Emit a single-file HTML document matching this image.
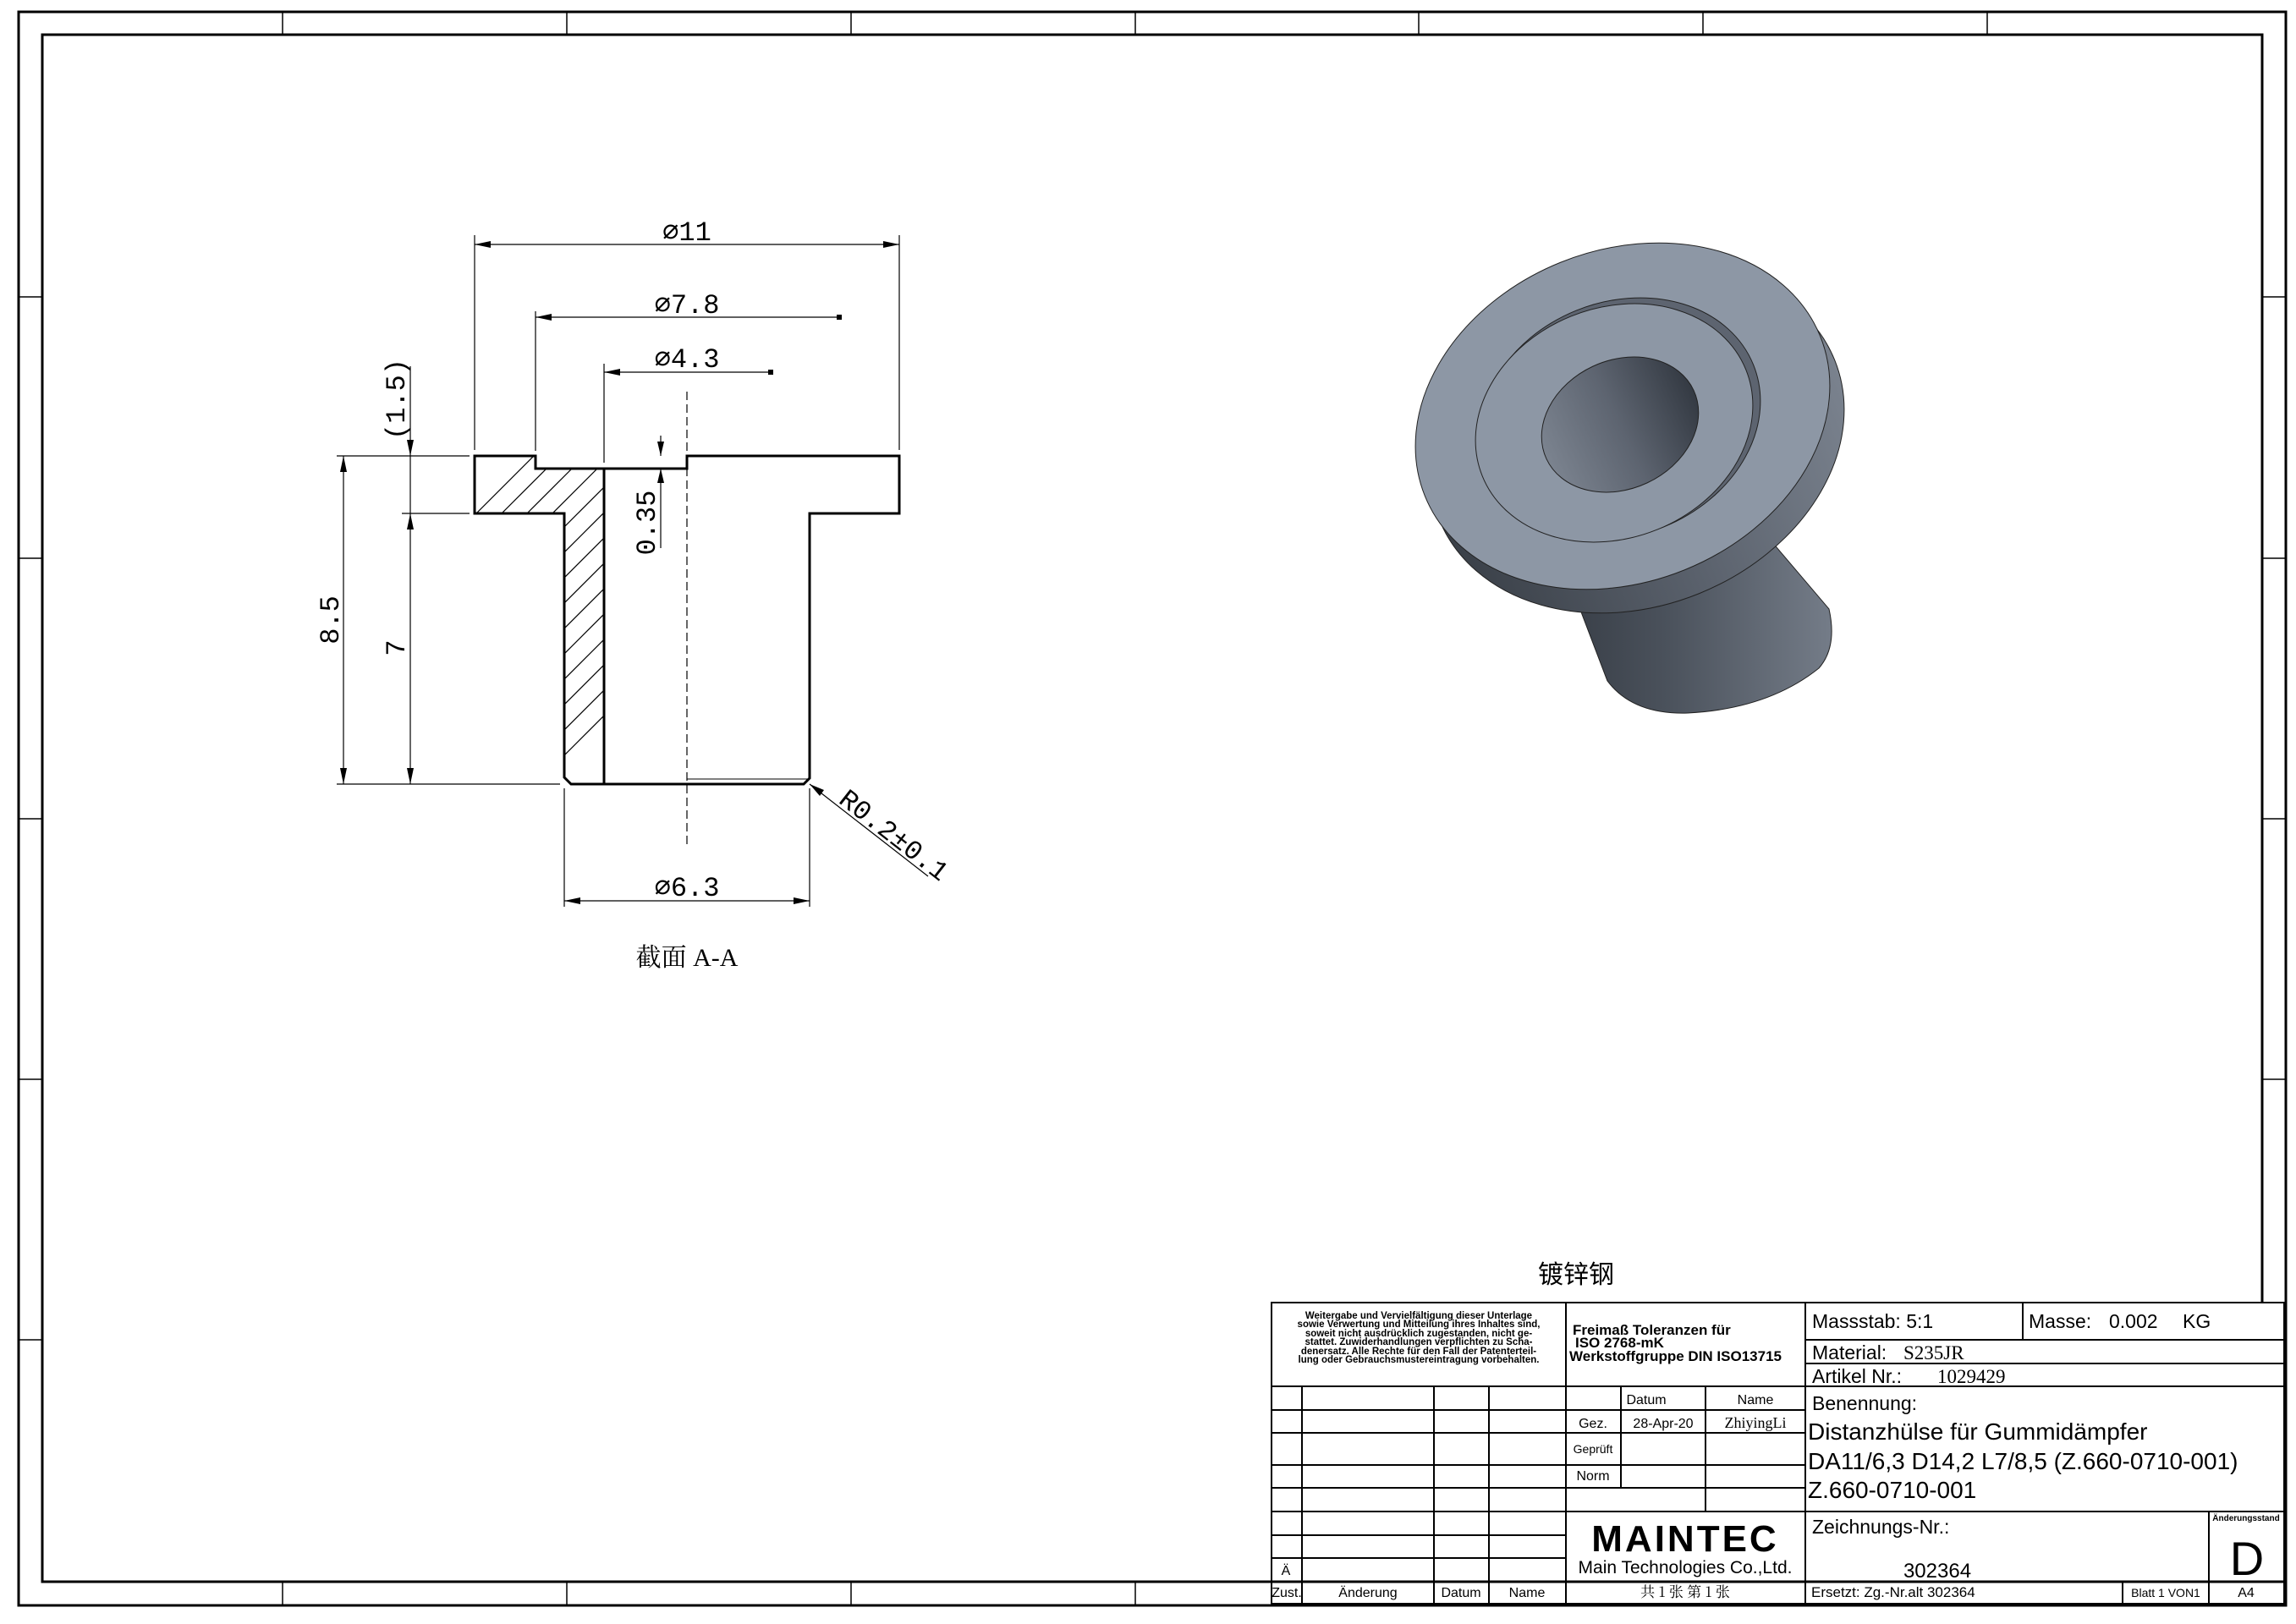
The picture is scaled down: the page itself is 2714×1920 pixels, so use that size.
<!DOCTYPE html>
<html><head><meta charset="utf-8"><style>
html,body{margin:0;padding:0;background:#fff;}
svg{display:block;}
.d{font-family:"Liberation Mono","DejaVu Sans Mono",monospace;font-size:32px;fill:#000;}
.t{font-family:"Liberation Sans","DejaVu Sans",sans-serif;fill:#000;}
.s{font-family:"Liberation Serif","Noto Serif CJK SC",serif;fill:#000;}
</style></head><body>
<svg width="2714" height="1920" viewBox="0 0 2714 1920" xmlns="http://www.w3.org/2000/svg">
<defs>
<clipPath id="sec"><polygon points="561,539 633,539 633,554 714,554 714,927 675,927 667,919 667,607 561,607"/></clipPath>
<linearGradient id="tube" x1="0" y1="0" x2="1" y2="0">
<stop offset="0" stop-color="#3a4049"/><stop offset="0.35" stop-color="#4a515b"/><stop offset="1" stop-color="#747c88"/></linearGradient>
<linearGradient id="rim" x1="0" y1="0" x2="1" y2="0">
<stop offset="0" stop-color="#3a4048"/><stop offset="0.5" stop-color="#59606b"/><stop offset="1" stop-color="#7a828e"/></linearGradient>
<linearGradient id="bore" x1="0" y1="0" x2="1" y2="0">
<stop offset="0" stop-color="#7b838f"/><stop offset="0.5" stop-color="#5d6470"/><stop offset="1" stop-color="#343a43"/></linearGradient>
</defs>
<rect x="22" y="14" width="2680" height="1884" fill="none" stroke="#000" stroke-width="3"/>
<rect x="50" y="41" width="2624" height="1829" fill="none" stroke="#000" stroke-width="3"/>
<g stroke="#000" stroke-width="1.5">
<line x1="334" y1="14" x2="334" y2="41"/><line x1="670" y1="14" x2="670" y2="41"/><line x1="1006" y1="14" x2="1006" y2="41"/><line x1="1342" y1="14" x2="1342" y2="41"/><line x1="1677" y1="14" x2="1677" y2="41"/><line x1="2013" y1="14" x2="2013" y2="41"/><line x1="2349" y1="14" x2="2349" y2="41"/>
<line x1="334" y1="1870" x2="334" y2="1898"/><line x1="670" y1="1870" x2="670" y2="1898"/><line x1="1006" y1="1870" x2="1006" y2="1898"/><line x1="1342" y1="1870" x2="1342" y2="1898"/>
<line x1="22" y1="351" x2="50" y2="351"/><line x1="22" y1="660" x2="50" y2="660"/><line x1="22" y1="968" x2="50" y2="968"/><line x1="22" y1="1276" x2="50" y2="1276"/><line x1="22" y1="1584" x2="50" y2="1584"/>
<line x1="2674" y1="351" x2="2702" y2="351"/><line x1="2674" y1="660" x2="2702" y2="660"/><line x1="2674" y1="968" x2="2702" y2="968"/><line x1="2674" y1="1276" x2="2702" y2="1276"/>
</g>

<g clip-path="url(#sec)" stroke="#000" stroke-width="1.2">
<line x1="540" y1="630" x2="660" y2="510"/><line x1="540" y1="660" x2="690" y2="510"/><line x1="560" y1="670" x2="720" y2="510"/><line x1="590" y1="670" x2="750" y2="510"/>
<line x1="600" y1="690" x2="760" y2="530"/><line x1="600" y1="720" x2="760" y2="560"/><line x1="600" y1="750" x2="760" y2="590"/><line x1="600" y1="780" x2="760" y2="620"/><line x1="600" y1="810" x2="760" y2="650"/><line x1="600" y1="840" x2="760" y2="680"/><line x1="600" y1="870" x2="760" y2="710"/><line x1="600" y1="900" x2="760" y2="740"/><line x1="600" y1="930" x2="760" y2="770"/><line x1="600" y1="960" x2="760" y2="800"/>
</g>
<g fill="none" stroke="#000" stroke-width="3">
<polygon points="561,539 633,539 633,554 714,554 714,927 675,927 667,919 667,607 561,607"/>
<polyline points="714,554 812,554 812,539 1063,539 1063,607 957,607 957,920 950,927 714,927"/>
</g>
<line x1="812" y1="921" x2="955" y2="921" stroke="#000" stroke-width="1"/>
<line x1="812" y1="463" x2="812" y2="1000" stroke="#000" stroke-width="1.2" stroke-dasharray="10,5"/>
<g stroke="#000" stroke-width="1.2" fill="none">
<line x1="561" y1="278" x2="561" y2="532"/><line x1="1063" y1="278" x2="1063" y2="532"/>
<line x1="633" y1="368" x2="633" y2="533"/><line x1="714" y1="430" x2="714" y2="547"/>
<line x1="398" y1="539" x2="555" y2="539"/><line x1="475" y1="607" x2="555" y2="607"/><line x1="398" y1="927" x2="662" y2="927"/>
<line x1="667" y1="932" x2="667" y2="1072"/><line x1="957" y1="932" x2="957" y2="1072"/>
<line x1="561" y1="289" x2="1063" y2="289"/>
<line x1="633" y1="375" x2="992" y2="375"/>
<line x1="714" y1="440" x2="911" y2="440"/>
<line x1="406" y1="539" x2="406" y2="927"/>
<line x1="485" y1="433" x2="485" y2="927"/>
<line x1="781" y1="515" x2="781" y2="539"/><line x1="781" y1="554" x2="781" y2="648"/>
<line x1="667" y1="1065" x2="957" y2="1065"/>
<line x1="957" y1="927" x2="1097" y2="1036"/>
</g>
<g fill="#000">
<polygon points="561,289 580,285 580,293"/><polygon points="1063,289 1044,285 1044,293"/>
<polygon points="633,375 652,371 652,379"/><rect x="989" y="372" width="6" height="6"/>
<polygon points="714,440 733,436 733,444"/><rect x="908" y="437" width="6" height="6"/>
<polygon points="406,539 402,558 410,558"/><polygon points="406,927 402,908 410,908"/>
<polygon points="485,539 481,520 489,520"/><polygon points="485,607 481,626 489,626"/><polygon points="485,927 481,908 489,908"/>
<polygon points="781,539 777,522 785,522"/><polygon points="781,554 777,571 785,571"/>
<polygon points="667,1065 686,1061 686,1069"/><polygon points="957,1065 938,1061 938,1069"/>
<polygon points="957,927 974,934 969,941"/>
</g>
<text class="d" x="812" y="284" text-anchor="middle">⌀11</text>
<text class="d" x="812" y="370" text-anchor="middle">⌀7.8</text>
<text class="d" x="812" y="434" text-anchor="middle">⌀4.3</text>
<text class="d" x="812" y="1059" text-anchor="middle">⌀6.3</text>
<text class="d" transform="translate(478,472) rotate(-90)" text-anchor="middle">(1.5)</text>
<text class="d" transform="translate(400,733) rotate(-90)" text-anchor="middle">8.5</text>
<text class="d" transform="translate(478,766) rotate(-90)" text-anchor="middle">7</text>
<text class="d" transform="translate(774,618) rotate(-90)" text-anchor="middle">0.35</text>
<text class="d" transform="translate(990,948) rotate(38)" font-size="30">R0.2±0.1</text>
<text class="s" x="812" y="1142" text-anchor="middle" font-size="30" font-family="'Noto Serif CJK SC','Liberation Mono',serif">截面 A-A</text>

<g>
<path d="M1860,700 L1900,805 Q1930,845 1995,843 Q2090,838 2150,790 Q2172,765 2162,720 L2060,600 Z" fill="url(#tube)" stroke="#222" stroke-width="1"/>
<ellipse cx="1935" cy="520" rx="252" ry="196" transform="rotate(-22 1935 520)" fill="url(#rim)" stroke="#222" stroke-width="1"/>
<ellipse cx="1918" cy="492" rx="252" ry="196" transform="rotate(-22 1918 492)" fill="#8d97a5" stroke="#222" stroke-width="1"/>
<ellipse cx="1915" cy="495" rx="170" ry="138" transform="rotate(-22 1915 495)" fill="#5d6470" stroke="#222" stroke-width="1"/>
<ellipse cx="1908" cy="500" rx="168" ry="136" transform="rotate(-22 1908 500)" fill="#8d97a5" stroke="#222" stroke-width="1"/>
<ellipse cx="1915" cy="502" rx="96" ry="76" transform="rotate(-25 1915 502)" fill="url(#bore)" stroke="#222" stroke-width="1"/>
</g>

<text x="1863" y="1517" text-anchor="middle" font-size="30" font-family="'Noto Sans CJK SC','WenQuanYi Zen Hei',sans-serif">镀锌钢</text>
<rect x="1503" y="1540" width="1197" height="356" fill="#fff" stroke="#000" stroke-width="2"/>
<line x1="1503" y1="1870" x2="2700" y2="1870" stroke="#000" stroke-width="3"/>
<line x1="2674" y1="41" x2="2674" y2="1540" stroke="#000" stroke-width="3"/>
<g stroke="#000" stroke-width="2">
<line x1="1851" y1="1540" x2="1851" y2="1896"/><line x1="2134" y1="1540" x2="2134" y2="1896"/>
<line x1="1503" y1="1639" x2="2700" y2="1639"/>
<line x1="2134" y1="1584" x2="2700" y2="1584"/><line x1="2134" y1="1612" x2="2700" y2="1612"/>
<line x1="2391" y1="1540" x2="2391" y2="1584"/>
<line x1="2134" y1="1787" x2="2700" y2="1787"/>
<line x1="2611" y1="1787" x2="2611" y2="1896"/><line x1="2509" y1="1870" x2="2509" y2="1896"/>
<line x1="1539" y1="1639" x2="1539" y2="1896"/><line x1="1695" y1="1639" x2="1695" y2="1896"/><line x1="1760" y1="1639" x2="1760" y2="1896"/>
<line x1="1503" y1="1667" x2="2134" y2="1667"/><line x1="1503" y1="1694" x2="2134" y2="1694"/><line x1="1503" y1="1732" x2="2134" y2="1732"/><line x1="1503" y1="1759" x2="2134" y2="1759"/><line x1="1503" y1="1787" x2="2134" y2="1787"/>
<line x1="1503" y1="1815" x2="1851" y2="1815"/><line x1="1503" y1="1842" x2="1851" y2="1842"/>
<line x1="1916" y1="1639" x2="1916" y2="1759"/><line x1="2016" y1="1639" x2="2016" y2="1787"/>
</g>
<g class="t" font-size="11.5" text-anchor="middle" font-weight="bold">
<text x="1677" y="1559">Weitergabe und Vervielfältigung dieser Unterlage</text>
<text x="1677" y="1569">sowie Verwertung und Mitteilung ihres Inhaltes sind,</text>
<text x="1677" y="1580">soweit nicht ausdrücklich zugestanden, nicht ge-</text>
<text x="1677" y="1590">stattet. Zuwiderhandlungen verpflichten zu Scha-</text>
<text x="1677" y="1601">denersatz. Alle Rechte für den Fall der Patenterteil-</text>
<text x="1677" y="1611">lung oder Gebrauchsmustereintragung vorbehalten.</text>
</g>
<g class="t" font-size="17" font-weight="bold">
<text x="1859" y="1578">Freimaß Toleranzen für</text>
<text x="1862" y="1593">ISO 2768-mK</text>
<text x="1855" y="1609">Werkstoffgruppe DIN ISO13715</text>
</g>
<g class="t" font-size="23">
<text x="2142" y="1570">Massstab: 5:1</text>
<text x="2398" y="1570">Masse:</text><text x="2493" y="1570">0.002</text><text x="2580" y="1570">KG</text>
<text x="2142" y="1607">Material:</text>
<text x="2142" y="1635">Artikel Nr.:</text>
<text x="2142" y="1667">Benennung:</text>
<text x="2142" y="1813">Zeichnungs-Nr.:</text>
</g>
<text class="s" x="2250" y="1607" font-size="23">S235JR</text>
<text class="s" x="2290" y="1635" font-size="23">1029429</text>
<g class="t" font-size="28">
<text x="2137" y="1702">Distanzhülse für Gummidämpfer</text>
<text x="2137" y="1737">DA11/6,3 D14,2 L7/8,5 (Z.660-0710-001)</text>
<text x="2137" y="1771">Z.660-0710-001</text>
</g>
<text class="t" x="2290" y="1865" text-anchor="middle" font-size="24">302364</text>
<text class="t" x="2655" y="1798" text-anchor="middle" font-size="10" font-weight="bold">Änderungsstand</text>
<text class="t" x="2656" y="1862" text-anchor="middle" font-size="56">D</text>
<g class="t" font-size="16" text-anchor="middle">
<text x="1946" y="1660">Datum</text><text x="2075" y="1660">Name</text>
<text x="1883" y="1688">Gez.</text><text x="1966" y="1688">28-Apr-20</text>
<text x="1883" y="1718" font-size="14">Geprüft</text>
<text x="1883" y="1750">Norm</text>
<text x="1520" y="1862">Ä</text>
<text x="1521" y="1888">Zust.</text><text x="1617" y="1888">Änderung</text><text x="1727" y="1888">Datum</text><text x="1805" y="1888">Name</text>
<text x="2560" y="1888" font-size="14">Blatt 1 VON1</text><text x="2655" y="1888">A4</text>
</g>
<text class="s" x="2075" y="1688" text-anchor="middle" font-size="18">ZhiyingLi</text>
<text class="t" x="2141" y="1888" font-size="17">Ersetzt: Zg.-Nr.alt   302364</text>
<text x="1992" y="1888" text-anchor="middle" font-size="17" font-family="'Noto Serif CJK SC',serif">共 1 张 第 1 张</text>
<text class="t" x="1992" y="1834" text-anchor="middle" font-size="44" font-weight="bold" letter-spacing="3">MAINTEC</text>
<text class="t" x="1992" y="1860" text-anchor="middle" font-size="21">Main Technologies Co.,Ltd.</text>
</svg>
</body></html>
